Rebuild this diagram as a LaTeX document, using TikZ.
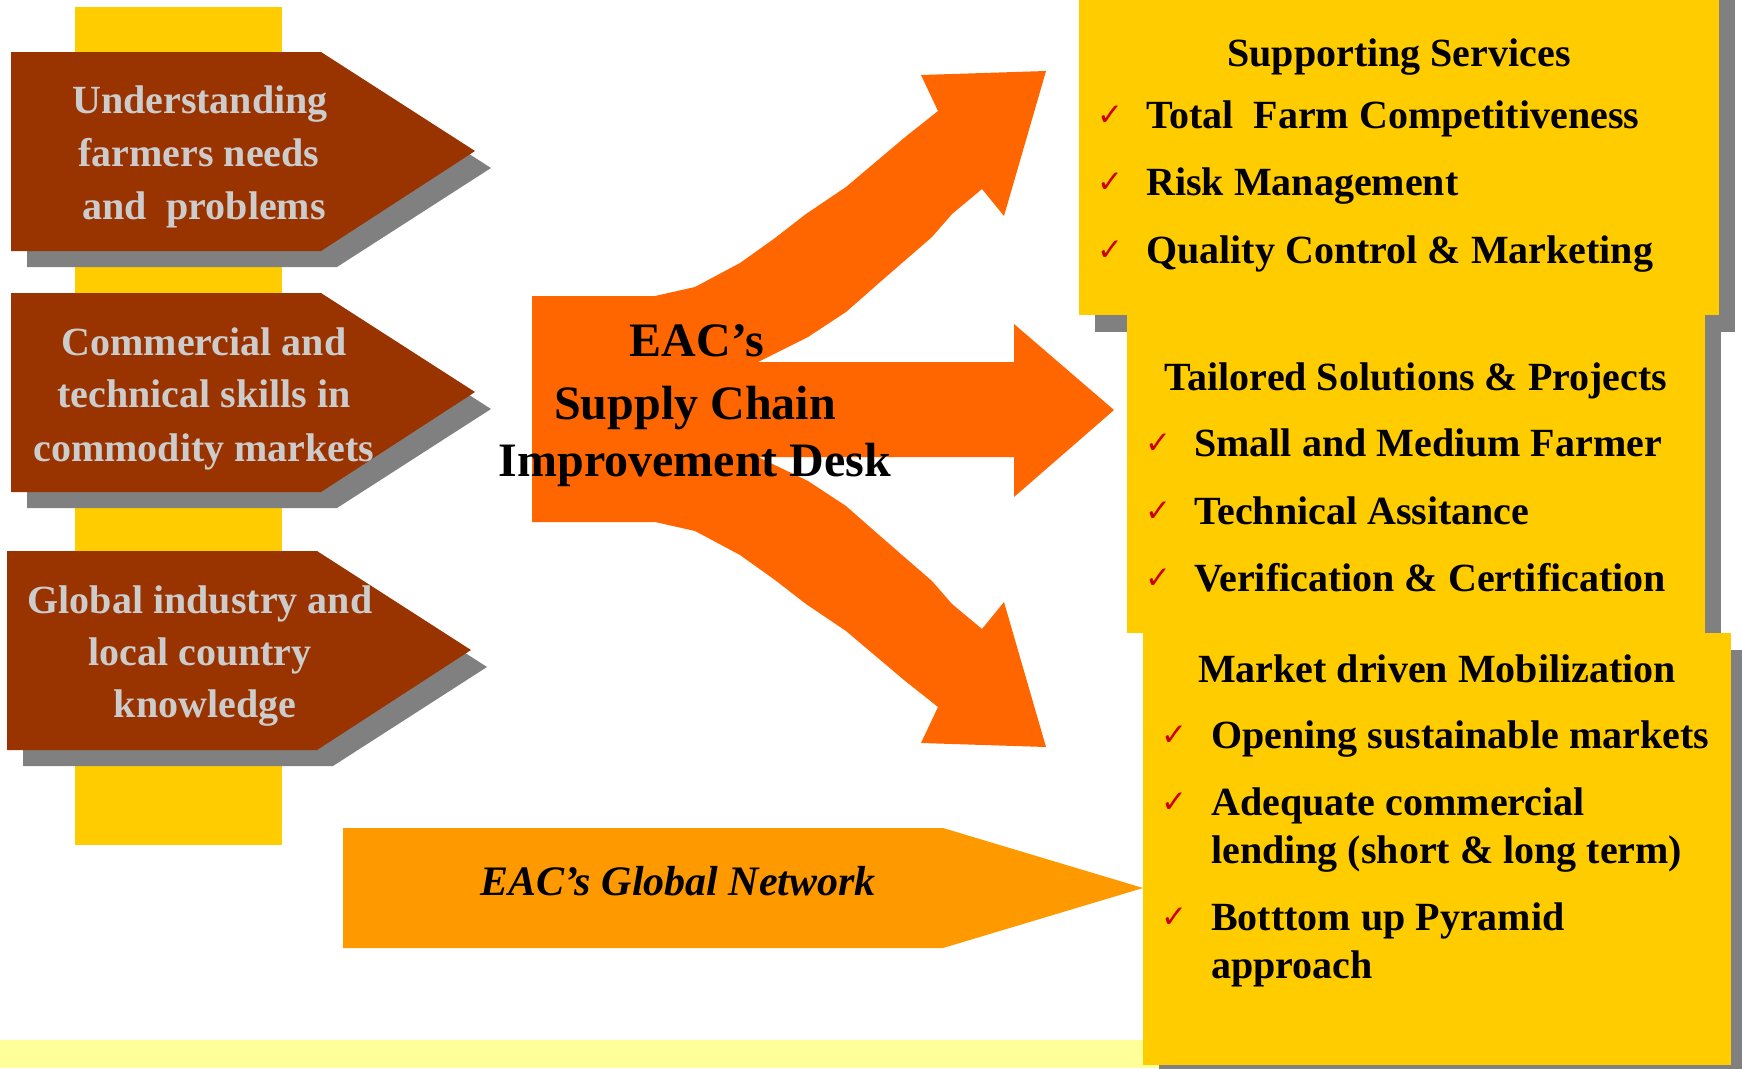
\documentclass[tikz,border=0pt]{standalone}
\usepackage{fontspec}
\setmainfont{Liberation Serif}
\newfontfamily\symfont{DejaVu Sans}
\definecolor{brownc}{HTML}{993300}
\definecolor{orangec}{HTML}{FF6600}
\definecolor{netc}{HTML}{FF9900}
\definecolor{yellowc}{HTML}{FFCC00}
\definecolor{paley}{HTML}{FFFF99}
\definecolor{shadowc}{HTML}{808080}
\definecolor{textgray}{HTML}{CCCCCC}
\definecolor{checkred}{HTML}{CC0000}
\begin{document}
\begin{tikzpicture}[x=1pt,y=-1pt]
\tikzset{
  lbl/.style={inner sep=0pt, anchor=base, font=\fontsize{40}{48}\selectfont\bfseries},
  lgray/.style={lbl, text=textgray},
  itemtxt/.style={lbl, anchor=base west},
  ck/.style={inner sep=0pt, anchor=base west, text=checkred, font=\symfont\fontsize{31}{31}\selectfont},
  big/.style={inner sep=0pt, anchor=base, font=\fontsize{48}{56}\selectfont\bfseries},
  shad/.style={fill=shadowc},
  brownarrow/.style={fill=brownc},
  ybox/.style={fill=yellowc},
}
\useasboundingbox (0,0) rectangle (1742,1068);
\clip (0,0) rectangle (1742,1068);
\fill[white] (0,0) rectangle (1742,1068);

% vertical yellow bar
\fill[yellowc] (75,7) rectangle (282,845);

% brown arrows with shadows
\foreach \t/\dx in {52/0, 293/0, 551/-4}{
  \fill[shad] (27+\dx,\t+17) -- (337+\dx,\t+17) -- (491+\dx,\t+116) -- (337+\dx,\t+215) -- (27+\dx,\t+215) -- cycle;
  \fill[brownarrow] (11+\dx,\t) -- (321+\dx,\t) -- (475+\dx,\t+99) -- (321+\dx,\t+199) -- (11+\dx,\t+199) -- cycle;
}

\node[lgray] (u1) at (200,113) {Understanding};
\node[lgray] (u2) at (199,166) {farmers needs};
\node[lgray] (u3) at (204,219) {and\ \ problems};
\node[lgray] (c1) at (204,355) {Commercial and};
\node[lgray] (c2) at (204,407) {technical skills in};
\node[lgray] (c3) at (204,461) {commodity markets};
\node[lgray] (g1) at (200,613) {Global industry and};
\node[lgray] (g2) at (200,665) {local country};
\node[lgray] (g3) at (205,717) {knowledge};

% pale strip at bottom
\fill[paley] (0,1040) rectangle (1200,1068);

% central orange three-way arrow
\fill[orangec] (532,296) -- (655,296) -- (695,287) -- (740,263) -- (775,238) -- (806,214)
  -- (846,187) -- (904,138) -- (938,111) -- (921,75) -- (1046,71) -- (1004,216) -- (982,189)
  -- (952,214) -- (932,237) -- (902,263) -- (879,283) -- (846,312) -- (808,337) -- (758,362)
  -- (1014,362) -- (1014,324) -- (1114,410) -- (1014,497) -- (1014,457) -- (758,457)
  -- (808,481) -- (846,506) -- (879,535) -- (902,555) -- (932,581) -- (952,604) -- (982,629)
  -- (1004,602) -- (1046,747) -- (921,743) -- (938,707) -- (904,680) -- (846,631) -- (806,604)
  -- (775,580) -- (740,555) -- (695,531) -- (655,522) -- (532,522) -- cycle;

\node[big] (d1) at (697,356) {EAC’s};
\node[big] (d2) at (695,419) {Supply Chain};
\node[big] (d3) at (695,476) {Improvement Desk};

% global network arrow
\fill[netc] (343,828) -- (943,828) -- (1143,888) -- (943,948) -- (343,948) -- cycle;
\node[inner sep=0pt, anchor=base, font=\fontsize{42}{48}\selectfont\bfseries\itshape] (net) at (678,895) {EAC’s Global Network};

% right boxes
\fill[shad] (1095,-3) rectangle (1735,332);
\fill[ybox] (1079,-20) rectangle (1719,315);
\fill[shad] (1143,332) rectangle (1721,650);
\fill[ybox] (1127,315) rectangle (1705,633);
\fill[shad] (1159,650) rectangle (1747,1082);
\fill[ybox] (1143,633) rectangle (1731,1065);

% box 1
\node[lbl] (h1) at (1399,66) {Supporting Services};
\node[ck] (k11) at (1097,125) {✓};
\node[itemtxt] (t11) at (1146,128) {Total\ \ Farm Competitiveness};
\node[ck] (k12) at (1097,192) {✓};
\node[itemtxt] (t12) at (1146,195) {Risk Management};
\node[ck] (k13) at (1097,260) {✓};
\node[itemtxt] (t13) at (1146,263) {Quality Control \& Marketing};

% box 2
\node[lbl] (h2) at (1416,390) {Tailored Solutions \& Projects};
\node[ck] (k21) at (1145,453) {✓};
\node[itemtxt] (t21) at (1194,456) {Small and Medium Farmer};
\node[ck] (k22) at (1145,521) {✓};
\node[itemtxt] (t22) at (1194,524) {Technical Assitance};
\node[ck] (k23) at (1145,588) {✓};
\node[itemtxt] (t23) at (1194,591) {Verification \& Certification};

% box 3
\node[lbl] (h3) at (1437,682) {Market driven Mobilization};
\node[ck] (k31) at (1161,745) {✓};
\node[itemtxt] (t31) at (1211,748) {Opening sustainable markets};
\node[ck] (k32) at (1161,812) {✓};
\node[itemtxt] (t32) at (1211,815) {Adequate commercial};
\node[itemtxt] (t32b) at (1211,863) {lending (short \& long term)};
\node[ck] (k33) at (1161,927) {✓};
\node[itemtxt] (t33) at (1211,930) {Botttom up Pyramid};
\node[itemtxt] (t33b) at (1211,978) {approach};
\end{tikzpicture}
\end{document}
